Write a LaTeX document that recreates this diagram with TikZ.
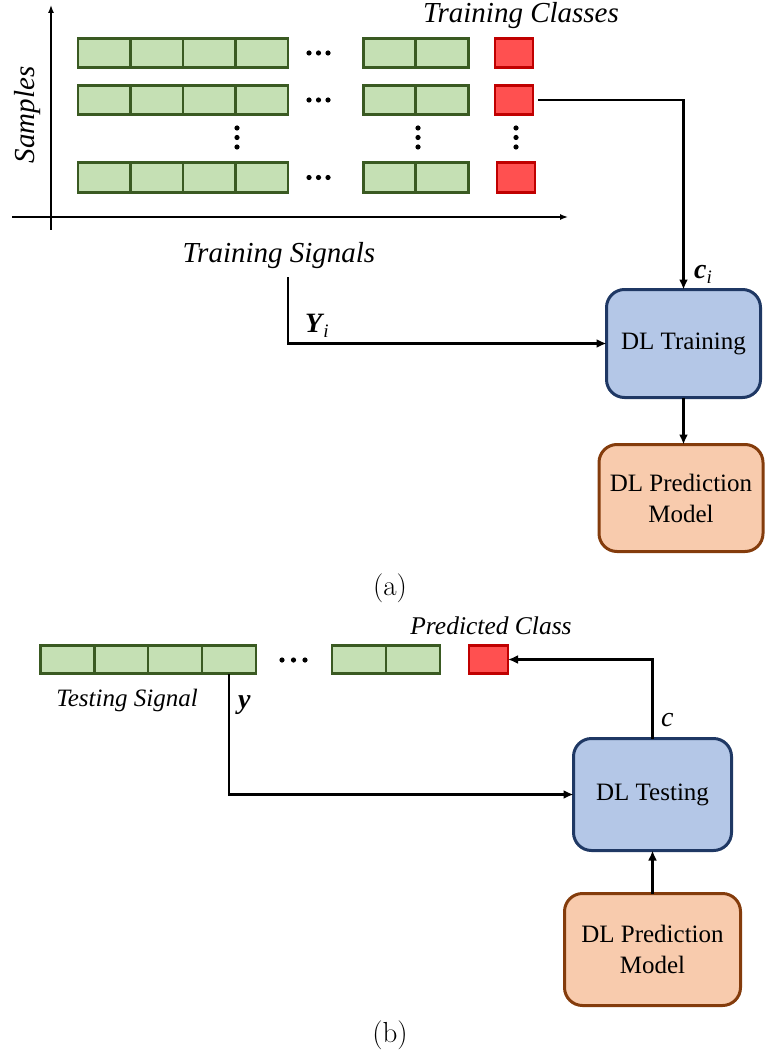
\documentclass[tikz,border=0pt]{standalone}
\usepackage{fontspec}
\usetikzlibrary{arrows.meta}
\newfontfamily\timesfont{Liberation Serif}
\definecolor{gfill}{HTML}{C5E0B4}
\definecolor{gborder}{HTML}{3A5A22}
\definecolor{rfill}{HTML}{FF5050}
\definecolor{rborder}{HTML}{C00000}
\definecolor{bfill}{HTML}{B4C7E7}
\definecolor{bborder}{HTML}{1F3864}
\definecolor{ofill}{HTML}{F8CBAD}
\definecolor{oborder}{HTML}{843C0C}
\tikzset{
  cell/.style={draw=gborder, fill=gfill, line width=2.6pt, minimum width=52.5pt,
    minimum height=29.5pt, inner sep=0pt, outer sep=0pt},
  tcell/.style={cell, minimum width=54pt, minimum height=28.5pt},
  cls/.style={draw=rborder, fill=rfill, line width=2.6pt, minimum width=38pt,
    minimum height=29.5pt, inner sep=0pt, outer sep=0pt},
  proc/.style={draw=bborder, fill=bfill, line width=3pt, rounded corners=18pt,
    align=center, inner sep=0pt, outer sep=0pt,
    font=\timesfont\fontsize{25}{31}\selectfont},
  model/.style={proc, draw=oborder, fill=ofill},
  link/.style={line width=2.4pt, -{Latex[length=10pt,width=9pt]}},
  axis/.style={line width=1.4pt, -{Latex[length=8pt,width=6pt]}},
  caption/.style={font=\timesfont\itshape\fontsize{29}{32}\selectfont, inner sep=0pt},
  smallcap/.style={font=\timesfont\itshape\fontsize{25.5}{28}\selectfont, inner sep=0pt},
  sym/.style={font=\timesfont\fontsize{28}{30}\selectfont, inner sep=0pt},
  sub/.style={font=\fontsize{29}{32}\selectfont, inner sep=0pt},
  dot/.style={fill=black, draw=none},
}
\begin{document}
\begin{tikzpicture}[x=1pt, y=-1pt]
\useasboundingbox (0,0) rectangle (765,1059);

% ---------- (a) training ----------
\draw[axis] (51,230) -- (51,5);
\draw[axis] (12,217) -- (568,217);
\node[caption, rotate=90] (samples) at (28,115) {Samples};
\node[caption] (trclasses) at (521,16) {Training Classes};

% signal rows
\foreach \r/\yy in {1/53, 2/100, 3/177.5} {
  \foreach \c/\xx in {1/104.25, 2/156.75, 3/209.25, 4/261.75}
    \node[cell] (s\r c\c) at (\xx,\yy) {};
  \foreach \c/\xx in {5/389.5, 6/442}
    \node[cell] (s\r c\c) at (\xx,\yy) {};
  \foreach \dx in {309,318.5,328}
    \fill[dot] (\dx,\yy) circle (2.6pt);
}
\node[cls] (r1) at (514,53) {};
\node[cls] (r2) at (514,100) {};
\node[cls] (r3) at (516,177.5) {};
% vertical ellipses
\foreach \xx in {237,418,516}
  \foreach \yy in {128,137.5,147}
    \fill[dot] (\xx,\yy) circle (2.6pt);

\node[caption] (trsignals) at (279,256) {Training Signals};
\coordinate (ytop) at (288,277);

\node[proc, minimum width=154pt, minimum height=108pt] (train) at (683.5,343.5) {DL Training};
\node[model, minimum width=164pt, minimum height=107pt] (modela) at (681,498) {DL Prediction\\Model};

\draw[link, shorten <=5pt] (r2.east) -| (train.north);
\draw[link] (ytop) |- (train.west);
\draw[link] (train.south) -- (train.south |- modela.north);
\node[sym, anchor=base west] (ylab) at (305,332) {\bfseries\itshape Y\kern1pt\raisebox{-5pt}{\fontsize{19}{20}\selectfont\mdseries i}};
\node[sym, anchor=base west] (clab) at (694,278) {\bfseries\itshape c\raisebox{-5pt}{\fontsize{19}{20}\selectfont\mdseries i}};

\node[sub] (capa) at (390,588) {(a)};

% ---------- (b) testing ----------
\node[smallcap] (predcls) at (491,626) {Predicted Class};
\foreach \c/\xx in {1/67.5, 2/121.5, 3/175, 4/229, 5/359, 6/413}
  \node[tcell] (t\c) at (\xx,659.5) {};
\foreach \dx in {282,293.5,305}
  \fill[dot] (\dx,660) circle (2.6pt);
\node[cls, minimum width=39pt, minimum height=28.5pt] (tr) at (488.5,659.5) {};
\node[smallcap, font=\timesfont\itshape\fontsize{25}{28}\selectfont] (tsig) at (127,700) {Testing Signal};

\node[proc, minimum width=158pt, minimum height=112pt] (test) at (652.5,794.5) {DL Testing};
\node[model, minimum width=176pt, minimum height=112pt] (modelb) at (652.5,949.5) {DL Prediction\\Model};

\draw[link] (t4.south) |- (test.west);
\draw[link] (test.north) |- (tr.east);
\draw[link] (modelb.north) -- (test.south);
\node[sym, anchor=base west] (ysym) at (238,708) {\bfseries\itshape y};
\node[sym, anchor=base west] (csym) at (661,726) {\itshape c};

\node[sub] (capb) at (390,1035) {(b)};
\end{tikzpicture}
\end{document}
